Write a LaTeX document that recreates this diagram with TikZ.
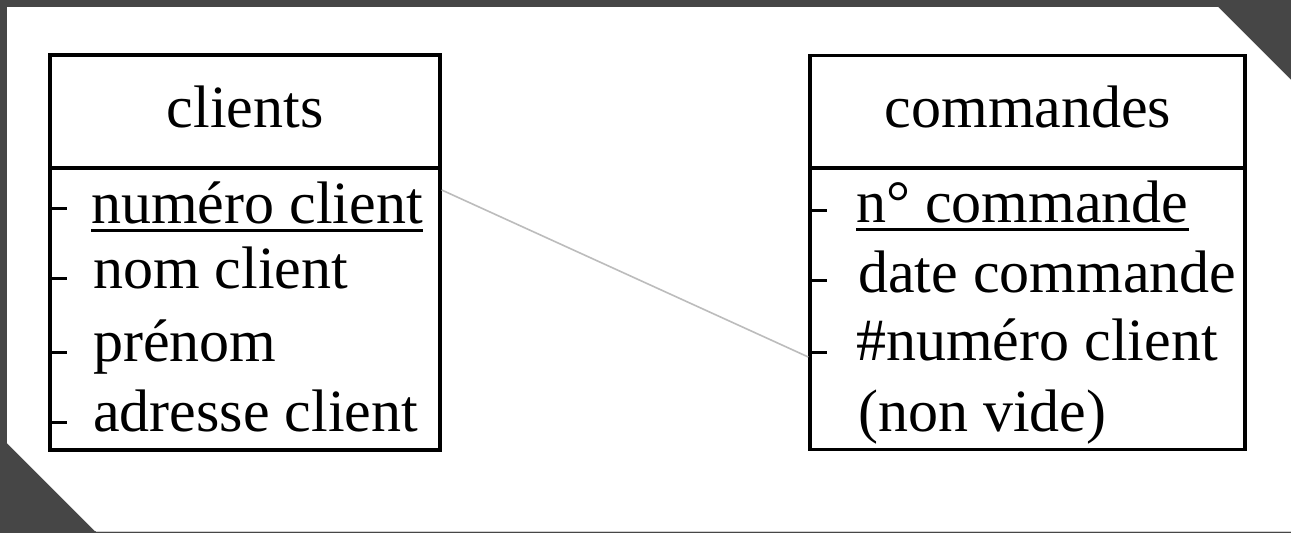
\documentclass[tikz,border=0pt]{standalone}
\usepackage{fontspec}
\setmainfont{Liberation Serif}
\usetikzlibrary{positioning}
\definecolor{backgray}{HTML}{464646}
\definecolor{linkgray}{HTML}{BCBCBC}
\tikzset{
  tablebox/.style={draw=black, line width=3.4pt, rectangle, inner sep=0pt},
  tabletitle/.style={anchor=base, inner sep=0pt, font=\fontsize{60}{72}\selectfont},
  attr/.style={anchor=base west, inner sep=0pt, font=\fontsize{60}{72}\selectfont},
  attrtick/.style={line width=3pt},
  keyline/.style={line width=3pt},
  link/.style={draw=linkgray, line width=1.6pt},
}
\begin{document}
\begin{tikzpicture}[x=1pt,y=-1pt]
            \useasboundingbox (0,0) rectangle (1291,533);
            % background and cut panel
            \fill[backgray] (0,0) rectangle (1291,533);
            \fill[white] (7,7) -- (1218,7) -- (1291,80) -- (1291,531) -- (95,531) -- (7,443) -- cycle;
            \draw[linkgray!70, line width=1.5pt] (96,531.5) -- (1291,531.5);

            % table clients
            \node[tablebox, minimum width=390pt, minimum height=395pt] (clients) at (245,252.5) {};
            \draw[line width=3.4pt] (clients.west |- 0,168) -- (clients.east |- 0,168);
            \node[tabletitle] (clientstitle) at (245,127) {clients};
            \node[attr] (pkclient) at (91,223) {numéro client};
            \node[attr] (nomclient) at (93,288) {nom client};
            \node[attr] (prenom) at (93,361) {prénom};
            \node[attr] (adresse) at (93,431) {adresse client};
            \draw[keyline] ([yshift=-7pt]pkclient.base west) -- ([yshift=-7pt]pkclient.base east);
            \foreach \y in {208,278,352,422}
                \draw[attrtick] (clients.west |- 0,\y) -- +(19,0);

            % table commandes
            \node[tablebox, minimum width=435pt, minimum height=394pt] (commandes) at (1027.5,252.5) {};
            \draw[line width=3.4pt] (commandes.west |- 0,168) -- (commandes.east |- 0,168);
            \node[tabletitle] (commandestitle) at (1028,127) {commandes};
            \node[attr] (pkcommande) at (856,222) {n° commande};
            \node[attr] (datecommande) at (858,292) {date commande};
            \node[attr] (fkclient) at (856,360) {\#numéro client};
            \node[attr] (nonvide) at (858,431) {(non vide)};
            \draw[keyline] ([yshift=-7pt]pkcommande.base west) -- ([yshift=-7pt]pkcommande.base east);
            \foreach \y in {210,280,352}
                \draw[attrtick] (commandes.west |- 0,\y) -- +(19,0);

            % link
            \coordinate (pkend) at (clients.east |- 0,190);
            \coordinate (fkend) at (commandes.west |- 0,357);
            \draw[link] (pkend) -- (fkend);
\end{tikzpicture}
\end{document}
